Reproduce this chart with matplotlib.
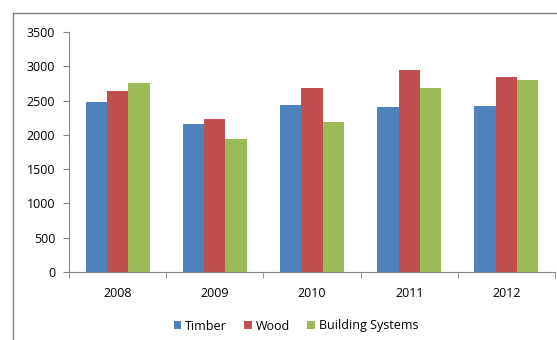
import numpy as np
import matplotlib.pyplot as plt
from matplotlib.lines import Line2D

years = ["2008", "2009", "2010", "2011", "2012"]
timber = [2480, 2165, 2435, 2400, 2425]
wood = [2640, 2230, 2690, 2940, 2840]
building = [2750, 1945, 2185, 2680, 2805]

series = [("Timber", timber, "#4F81BD"),
          ("Wood", wood, "#C0504D"),
          ("Building Systems", building, "#9BBB59")]

plt.rcParams["font.family"] = ["Open Sans", "DejaVu Sans"]

fig = plt.figure(figsize=(5.57, 3.40), dpi=100)
ax = fig.add_axes([69 / 557, 68 / 340, 486 / 557, 240 / 340])

x = np.arange(len(years))
w = 0.22
for i, (name, vals, col) in enumerate(series):
    ax.bar(x + (i - 1) * w, vals, w, color=col, label=name, zorder=2)

ax.set_xlim(-0.5, len(years) - 0.5)
ax.set_ylim(0, 3500)
ax.set_yticks(range(0, 3501, 500))
ax.set_xticks(x)
ax.set_xticklabels(years)
ax.set_xticks(np.arange(-0.5, len(years)), minor=True)

axis_col = "#868686"
for side in ("top", "right"):
    ax.spines[side].set_visible(False)
for side in ("left", "bottom"):
    ax.spines[side].set_color(axis_col)
    ax.spines[side].set_linewidth(0.8)

ax.tick_params(axis="y", length=4, color=axis_col, labelsize=9, pad=6)
ax.tick_params(axis="x", which="major", length=0, labelsize=9, pad=11)
ax.tick_params(axis="x", which="minor", length=4, color=axis_col)

ax.legend(loc="center", bbox_to_anchor=(0.467, -0.225), ncol=3, frameon=False,
          fontsize=9, handlelength=0.6, handleheight=0.6, handletextpad=0.3,
          columnspacing=1.4)

# chart frame (top and left edges)
fig.add_artist(Line2D([13 / 557, 1], [1 - 13 / 340] * 2, color="#7F7F7F", lw=1))
fig.add_artist(Line2D([13 / 557] * 2, [0, 1 - 13 / 340], color="#7F7F7F", lw=1))

fig.savefig("out.png", dpi=100)
